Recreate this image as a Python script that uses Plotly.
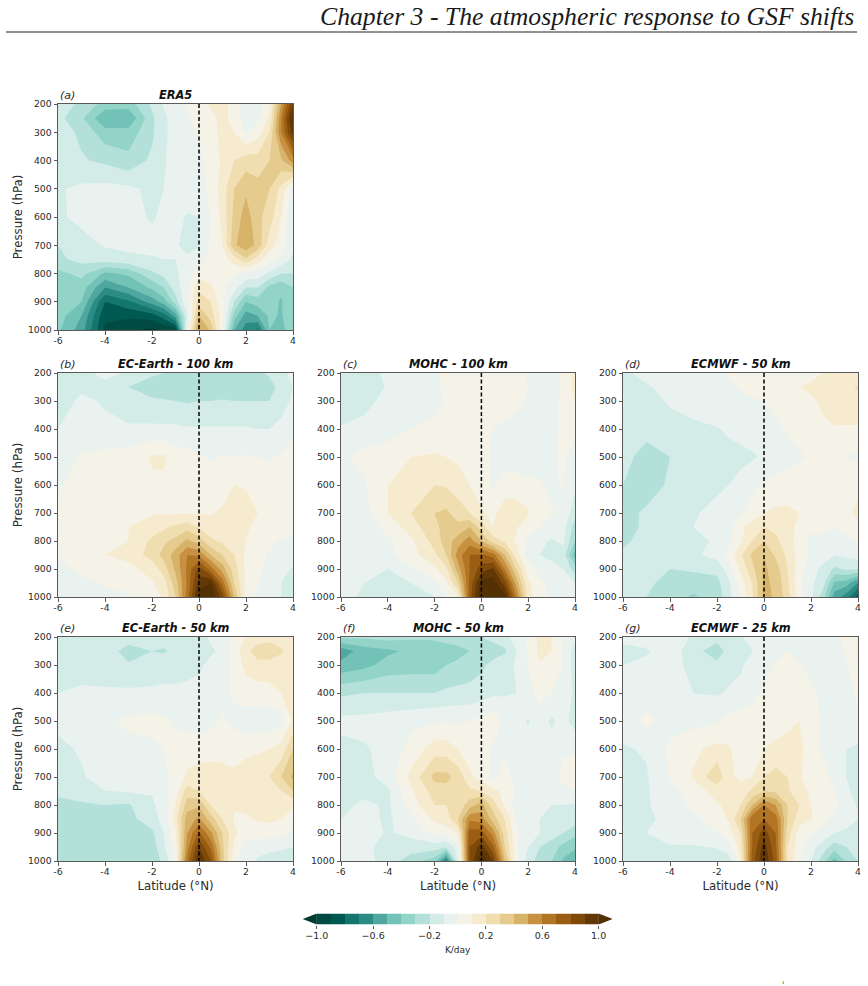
import plotly.graph_objects as go

# Latitude (deg N) and pressure (hPa) coordinates of the composites
latitude = [-6, -5, -4, -3, -2, -1.5, -1, -0.5, 0, 0.5, 1, 1.5, 2, 2.5, 3, 3.5, 4]
pressure = [200, 250, 300, 400, 500, 600, 700, 750, 800, 850, 900, 950, 1000]

# Diabatic heating anomaly (K/day), one row per pressure level
era5 = [
    [-.15, -.22, -.34, -.35, -.18, -.09, -.05, .02, .05, .12, .15, .05, -.05, -.04, .08, .5, .9],
    [-.17, -.28, -.49, -.49, -.22, -.12, -.06, -.02, .05, .06, .14, .05, -.05, -.03, .12, .6, 1.05],
    [-.15, -.22, -.36, -.36, -.22, -.12, -.06, -.02, .01, .05, .14, .1, -.01, .05, .2, .6, .95],
    [-.15, -.19, -.22, -.27, -.18, -.11, -.06, -.03, -.02, .03, .12, .2, .25, .25, .3, .38, .55],
    [-.11, -.08, -.07, -.08, -.12, -.1, -.07, -.04, -.04, .03, .15, .3, .38, .33, .3, .17, -.05],
    [-.12, -.07, -.06, -.07, -.11, -.08, -.07, -.11, -.1, 0, .13, .33, .45, .33, .25, .1, -.1],
    [-.2, -.14, -.09, -.08, -.07, -.07, -.08, -.15, -.11, .02, .1, .38, .47, .37, .15, .05, -.08],
    [-.22, -.17, -.15, -.12, -.11, -.1, -.1, -.07, -.05, .04, .06, .15, .28, .15, .03, -.03, -.12],
    [-.33, -.27, -.42, -.38, -.22, -.17, -.12, -.03, .05, .05, .03, .02, -.02, -.05, -.12, -.2, -.2],
    [-.35, -.35, -.6, -.5, -.38, -.3, -.15, -.02, .18, .12, .02, -.05, -.2, -.2, -.33, -.38, -.3],
    [-.35, -.4, -.8, -.72, -.55, -.45, -.25, -.02, .25, .2, .03, -.2, -.4, -.35, -.36, -.41, -.3],
    [-.35, -.5, -.88, -.88, -.85, -.75, -.55, -.1, .4, .25, .05, -.35, -.55, -.5, -.38, -.41, -.32],
    [-.38, -.55, -.92, -.98, -1.02, -.98, -.95, .0, .52, .38, .02, -.5, -.65, -.72, -.4, -.41, -.38],
]
ec_earth_100 = [
    [-.15, -.12, -.08, -.11, -.18, -.2, -.21, -.22, -.22, -.22, -.22, -.23, -.22, -.22, -.18, -.12, -.08],
    [-.17, -.12, -.12, -.2, -.26, -.27, -.28, -.28, -.27, -.28, -.28, -.28, -.28, -.29, -.25, -.15, -.1],
    [-.15, -.08, -.11, -.14, -.18, -.19, -.2, -.21, -.2, -.2, -.19, -.2, -.2, -.2, -.2, -.13, -.09],
    [-.1, -.07, -.08, -.09, -.08, -.08, -.08, -.09, -.09, -.09, -.09, -.09, -.09, -.1, -.1, -.08, -.01],
    [-.05, .01, .03, .05, .11, .115, .05, .04, .01, -.01, .01, 0, .01, 0, -.01, .01, .03],
    [-.01, .03, .05, .06, .085, .085, .06, .05, .05, .05, .07, .1, .09, .06, .05, .05, .05],
    [.03, .05, .06, .08, .09, .09, .09, .09, .095, .095, .11, .14, .14, .1, .06, .05, .05],
    [.04, .05, .07, .1, .15, .18, .22, .26, .19, .14, .12, .12, .11, .08, .06, .05, .05],
    [.03, .05, .07, .1, .22, .28, .33, .42, .35, .22, .18, .12, .1, .05, .02, -.01, -.02],
    [.01, .04, .1, .12, .25, .33, .45, .6, .58, .4, .3, .2, .08, .03, -.01, -.03, -.05],
    [-.03, .02, .05, .08, .13, .25, .42, .62, .85, .65, .45, .25, .08, .02, -.03, -.07, -.11],
    [-.05, -.02, .01, .05, .09, .15, .35, .62, .95, 1.0, .65, .3, .08, .01, -.04, -.1, -.13],
    [-.06, -.05, -.03, -.01, .02, .12, .3, .65, 1.05, 1.1, .85, .4, .05, -.03, -.08, -.1, -.15],
]
mohc_100 = [
    [-.12, -.14, -.08, -.05, -.01, .02, .03, .05, .05, .05, .05, .03, -.01, -.05, -.05, .02, .12],
    [-.2, -.16, -.09, -.06, -.02, .02, .03, .05, .05, .05, .05, .03, 0, -.04, -.06, .02, .13],
    [-.17, -.14, -.06, -.05, -.03, .01, .03, .05, .05, .05, .04, .02, -.01, -.03, -.05, .03, .1],
    [-.09, -.06, -.05, 0, .03, .05, .05, .05, .05, 0, -.02, -.03, -.04, -.05, -.04, .03, .04],
    [-.02, .03, .06, .1, .11, .1, .08, .06, .04, -.02, -.06, -.06, -.07, -.05, -.02, .02, -.06],
    [-.05, -.01, .1, .17, .2, .19, .15, .1, .06, -.01, .05, .05, .03, .01, -.02, .01, -.08],
    [-.06, -.04, .1, .2, .3, .32, .25, .2, .11, .08, .15, .15, .11, .03, .01, -.03, -.15],
    [-.06, -.05, .03, .15, .28, .33, .33, .4, .25, .1, .13, .11, .05, 0, -.04, -.06, -.25],
    [-.07, -.06, -.02, .08, .24, .35, .45, .55, .4, .25, .18, .08, -.02, -.08, -.11, -.08, -.3],
    [-.1, -.05, -.03, .06, .18, .3, .55, .7, .72, .65, .4, .15, -.06, -.1, -.13, -.14, -.45],
    [-.06, -.06, -.1, -.01, .08, .17, .45, .7, .85, .92, .6, .3, .05, -.03, -.06, -.1, -.25],
    [-.05, -.1, -.12, -.1, -.02, .08, .3, .72, 1.05, 1.05, .85, .45, .12, .02, -.02, -.05, -.1],
    [-.05, -.13, -.15, -.2, -.1, -.01, .1, .75, 1.1, 1.15, 1.05, .6, .15, .03, -.02, -.05, -.07],
]
ecmwf_50 = [
    [-.12, -.07, -.05, 0, -.02, .01, .02, .04, .04, .05, .06, .07, .08, .1, .11, .12, .13],
    [-.2, -.11, -.07, -.05, -.04, -.02, .01, .03, .03, .04, .06, .1, .11, .13, .15, .18, .21],
    [-.16, -.13, -.09, -.06, -.05, -.04, -.03, -.01, 0, .03, .05, .07, .09, .11, .13, .16, .16],
    [-.16, -.15, -.13, -.12, -.105, -.09, -.08, -.06, -.05, -.02, .01, .03, .05, .09, .095, .09, .09],
    [-.15, -.26, -.2, -.15, -.13, -.12, -.115, -.11, -.09, -.06, -.03, -.01, .01, .03, .03, 0, -.02],
    [-.2, -.23, -.19, -.15, -.12, -.1, -.08, -.03, .02, .03, .04, .04, .05, .05, .06, .07, .08],
    [-.22, -.19, -.16, -.11, -.07, -.04, -.01, .05, .1, .12, .12, .1, .06, .06, .06, .08, .12],
    [-.22, -.19, -.16, -.1, -.07, -.04, .08, .14, .2, .18, .13, .08, .03, .03, 0, .04, .08],
    [-.21, -.18, -.16, -.14, -.08, -.03, .08, .2, .3, .22, .15, .05, -.03, -.03, -.06, -.02, .01],
    [-.19, -.17, -.15, -.12, -.06, .03, .18, .32, .4, .28, .18, .06, -.02, -.06, -.1, -.08, -.05],
    [-.18, -.16, -.2, -.18, -.17, -.05, .12, .27, .42, .35, .2, .05, -.07, -.12, -.22, -.18, -.2],
    [-.17, -.17, -.25, -.27, -.23, -.12, .05, .2, .42, .38, .22, .03, -.08, -.15, -.42, -.45, -.6],
    [-.14, -.2, -.27, -.31, -.26, -.13, 0, .18, .44, .38, .25, .03, -.08, -.25, -.55, -.65, -.85],
]
ec_earth_50 = [
    [-.16, -.11, -.13, -.15, -.16, -.16, -.16, -.16, -.15, -.08, -.06, .03, .11, .15, .17, .12, .1],
    [-.17, -.13, -.15, -.24, -.2, -.21, -.18, -.2, -.15, -.12, -.07, .04, .17, .25, .25, .22, .1],
    [-.16, -.15, -.17, -.19, -.16, -.16, -.16, -.14, -.12, -.07, -.05, .03, .13, .17, .17, .13, .12],
    [-.1, -.08, -.08, -.08, -.08, -.07, -.07, -.07, -.06, -.06, -.04, .02, .05, .05, .06, .1, .12],
    [-.08, -.05, -.02, .02, .03, .01, -.01, -.03, -.05, -.03, .02, -.03, -.05, -.06, -.06, -.04, .12],
    [-.12, -.09, -.05, -.03, -.02, 0, .02, .05, .05, .06, .06, .08, .06, .08, .1, .14, .3],
    [-.15, -.11, -.06, -.06, -.04, -.02, .03, .12, .15, .15, .14, .11, .18, .18, .2, .3, .42],
    [-.16, -.13, -.1, -.09, -.09, -.04, .05, .25, .2, .14, .13, .11, .14, .15, .17, .2, .3],
    [-.25, -.22, -.2, -.21, -.12, -.05, .1, .35, .38, .2, .14, .11, .12, .13, .13, .12, .11],
    [-.24, -.25, -.22, -.23, -.15, -.06, .15, .45, .52, .35, .2, .09, .09, .11, .13, .1, .06],
    [-.24, -.24, -.24, -.24, -.22, -.1, .08, .5, .72, .52, .3, .12, .04, .04, .03, .03, -.02],
    [-.22, -.25, -.25, -.25, -.25, -.12, .05, .55, .9, .68, .32, .08, -.04, -.05, -.06, -.07, -.1],
    [-.2, -.25, -.25, -.26, -.25, -.18, .02, .65, 1.0, .8, .35, .02, -.05, -.12, -.16, -.2, -.2],
]
mohc_50 = [
    [-.28, -.28, -.26, -.28, -.28, -.25, -.25, -.22, -.2, -.17, -.13, -.06, .01, .13, .1, .01, -.05],
    [-.56, -.45, -.42, -.38, -.36, -.36, -.33, -.3, -.27, -.25, -.22, -.1, .01, .13, .1, -.02, -.14],
    [-.47, -.43, -.36, -.35, -.35, -.3, -.28, -.25, -.22, -.17, -.13, -.09, .01, .09, .06, 0, -.15],
    [-.22, -.2, -.2, -.2, -.2, -.18, -.17, -.17, -.15, -.12, -.11, -.1, -.03, .03, 0, -.03, -.12],
    [-.07, -.07, -.05, -.03, -.01, -.01, -.01, 0, .03, .07, -.03, -.06, -.11, -.04, -.12, -.06, -.15],
    [-.13, -.11, -.07, .04, .15, .15, .1, .03, .02, -.01, -.03, -.05, -.06, -.06, -.05, -.01, -.01],
    [-.12, -.14, -.05, .13, .33, .33, .26, .13, .05, -.02, .05, -.03, -.05, -.05, -.03, .02, .05],
    [-.13, -.14, -.12, .08, .25, .26, .24, .22, .2, .13, .07, -.02, -.04, -.05, -.04, -.02, -.01],
    [-.14, -.07, -.12, .05, .2, .2, .24, .35, .45, .25, .08, -.05, -.05, -.06, -.1, -.1, -.11],
    [-.1, -.06, -.12, -.02, .12, .15, .3, .58, .55, .35, .2, -.01, -.07, -.1, -.11, -.11, -.14],
    [-.07, -.05, -.11, -.07, .03, .05, .1, .75, .75, .55, .25, .02, -.08, -.1, -.15, -.2, -.27],
    [-.07, -.05, -.18, -.15, -.15, -.2, -.05, .8, .95, .72, .3, .02, -.1, -.2, -.25, -.33, -.38],
    [-.07, -.06, -.15, -.25, -.35, -.7, -.1, .8, 1.1, .9, .4, .02, -.15, -.25, -.3, -.42, -.5],
]
ecmwf_25 = [
    [-.08, -.06, -.05, -.11, -.15, -.12, -.11, -.05, -.02, -.05, -.05, -.05, -.05, -.05, -.03, .03, .11],
    [-.12, -.11, -.05, -.15, -.27, -.15, -.14, -.105, -.05, -.03, 0, -.03, -.05, -.05, -.04, .02, .11],
    [-.1, -.08, -.05, -.14, -.17, -.13, -.12, -.05, -.03, .01, .05, .01, -.03, -.05, -.04, -.02, .1],
    [-.06, -.05, -.05, -.1, -.11, -.09, -.06, -.03, .02, .05, .05, .05, .02, -.02, -.05, -.05, .03],
    [-.05, .03, -.04, -.03, -.01, .03, .04, .05, .05, .06, .07, .1, .04, -.01, -.04, -.05, -.05],
    [-.11, -.09, .02, .08, .13, .11, .07, .05, .1, .12, .14, .13, .04, -.01, -.03, -.1, -.11],
    [-.13, -.11, .01, .11, .28, .12, .08, .1, .2, .24, .2, .11, .06, .03, -.02, -.1, -.11],
    [-.13, -.11, -.03, .05, .14, .13, .15, .22, .3, .28, .22, .12, .09, .05, 0, -.09, -.12],
    [-.14, -.11, -.05, .02, .09, .12, .2, .4, .6, .5, .3, .2, .1, .05, .02, -.04, -.11],
    [-.13, -.12, -.07, -.02, .04, .11, .3, .68, .7, .65, .3, .15, .11, .03, -.03, -.05, -.1],
    [-.12, -.1, -.05, -.04, 0, .05, .2, .7, .85, .7, .25, .05, .01, -.03, -.1, -.12, -.11],
    [-.12, -.12, -.11, -.11, -.09, -.04, .15, .7, .95, .72, .2, .04, -.06, -.15, -.25, -.2, -.2],
    [-.11, -.11, -.13, -.14, -.2, -.15, .1, .75, 1.0, .75, .2, .02, -.1, -.25, -.45, -.28, -.2],
]

panel_letters = ["(a)", "(b)", "(c)", "(d)", "(e)", "(f)", "(g)"]
panel_titles = ["ERA5", "EC-Earth - 100 km", "MOHC - 100 km", "ECMWF - 50 km",
                "EC-Earth - 50 km", "MOHC - 50 km", "ECMWF - 25 km"]
panel_fields = [era5, ec_earth_100, mohc_100, ecmwf_50, ec_earth_50, mohc_50, ecmwf_25]

lat_ticks = [-6, -4, -2, 0, 2, 4]
lat_tick_text = ["-6", "-4", "-2", "0", "2", "4"]
pressure_ticks = [200, 300, 400, 500, 600, 700, 800, 900, 1000]

level_edges = [-1.0, -0.9, -0.8, -0.7, -0.6, -0.5, -0.4, -0.3, -0.2, -0.1, 0.0,
               0.1, 0.2, 0.3, 0.4, 0.5, 0.6, 0.7, 0.8, 0.9, 1.0]
level_mids = [-.95, -.85, -.75, -.65, -.55, -.45, -.35, -.25, -.15, -.05,
              .05, .15, .25, .35, .45, .55, .65, .75, .85, .95]
cbar_ticks = [-1.0, -0.6, -0.2, 0.2, 0.6, 1.0]
cbar_tick_text = ["−1.0", "−0.6", "−0.2", "0.2", "0.6", "1.0"]

# Reversed BrBG, one colour per filled band, including the two end bands
band_colours = ["#003c30", "#014b43", "#015a52", "#14766e", "#2a8c84", "#4fa79f",
                "#73c2b8", "#92d4c8", "#b3e1da", "#d3ece8", "#e9f2ef", "#f5f2e8",
                "#f6ebcf", "#f0deb1", "#e5cb8e", "#d7b269", "#c79141", "#b27524",
                "#995d13", "#7e4909", "#623806", "#543005"]
n_bands = len(band_colours)
colorscale = [[i / (n_bands - 1), c] for i, c in enumerate(band_colours)]

W, H = 868, 986


def px(x):
    return x / W


def py(y):
    return 1 - y / H


# Panel frames in page pixels: left, right, top, bottom
frames = [(58, 293, 104, 330),
          (58, 293, 373, 597), (341, 575, 373, 597), (623, 858, 373, 597),
          (58, 293, 637, 861), (341, 575, 637, 861), (623, 858, 637, 861)]
left_column = {0, 1, 4}
bottom_row = {4, 5, 6}

INK = "#2b2b2b"
FRAME = "#5a5a5a"
FONT = "DejaVu Sans"

fig = go.Figure()
layout = dict(
    width=W, height=H, autosize=False,
    margin=dict(l=0, r=0, t=0, b=0, pad=0, autoexpand=False),
    paper_bgcolor="white", plot_bgcolor="white", showlegend=False,
    font=dict(family=FONT, color=INK, size=9),
)
annotations = []

for i, field in enumerate(panel_fields):
    n = "" if i == 0 else str(i + 1)
    x_id, y_id = "x" + n, "y" + n
    fig.add_trace(go.Contour(
        x=latitude, y=pressure, z=field, xaxis=x_id, yaxis=y_id,
        autocontour=False, contours=dict(start=-1.0, end=1.0, size=0.1, coloring="fill"),
        colorscale=colorscale, showscale=False, line=dict(width=0, smoothing=0),
        hoverinfo="skip",
    ))
    fig.add_trace(go.Scatter(
        x=[0, 0], y=[pressure[0], pressure[-1]], xaxis=x_id, yaxis=y_id, mode="lines",
        line=dict(color="black", width=1.5, dash="4px,2.5px"), hoverinfo="skip",
    ))
    l, r, t, b = frames[i]
    layout["xaxis" + n] = dict(
        domain=[px(l), px(r)], anchor=y_id, range=[-6, 4], tickmode="array",
        tickvals=lat_ticks, ticktext=lat_tick_text, ticks="outside", ticklen=3.5, tickwidth=1,
        ticklabelstandoff=-2,
        tickcolor=FRAME, tickfont=dict(size=9.3, color=INK), showgrid=False, zeroline=False,
        showline=True, mirror=True, linecolor=FRAME, linewidth=1,
        title=dict(text="Latitude (°N)" if i in bottom_row else "", font=dict(size=11.8, color=INK), standoff=6),
    )
    layout["yaxis" + n] = dict(
        domain=[py(b), py(t)], anchor=x_id, range=[1000, 200], tickmode="array",
        tickvals=pressure_ticks, ticks="outside", ticklen=3.5, tickwidth=1,
        tickcolor=FRAME, tickfont=dict(size=9.3, color=INK), showgrid=False, zeroline=False,
        showline=True, mirror=True, linecolor=FRAME, linewidth=1,
        title=dict(text="Pressure (hPa)" if i in left_column else "", font=dict(size=11.8, color=INK), standoff=2),
    )
    annotations.append(dict(
        xref="paper", yref="paper", x=px((l + r) / 2), y=py(t), xanchor="center", yanchor="bottom",
        text="<b><i>%s</i></b>" % panel_titles[i], showarrow=False,
        font=dict(size=11.4, color="#111111"),
    ))
    annotations.append(dict(
        xref="paper", yref="paper", x=px(l), y=py(t), xanchor="left", yanchor="bottom",
        text="<i>%s</i>" % panel_letters[i], showarrow=False, font=dict(size=11, color=INK),
    ))

# Horizontal colour bar with triangular end caps for out-of-range values
fig.add_trace(go.Heatmap(
    x=level_edges, y=[0, 1], z=[level_mids], xaxis="x8", yaxis="y8",
    zmin=-1.05, zmax=1.05, colorscale=colorscale, showscale=False, hoverinfo="skip",
))
fig.add_trace(go.Scatter(
    x=[-1.0, -1.1, -1.0], y=[0, 0.5, 1], xaxis="x8", yaxis="y8", mode="lines", fill="toself",
    fillcolor=band_colours[0], line=dict(width=0), hoverinfo="skip",
))
fig.add_trace(go.Scatter(
    x=[1.0, 1.1, 1.0], y=[0, 0.5, 1], xaxis="x8", yaxis="y8", mode="lines", fill="toself",
    fillcolor=band_colours[-1], line=dict(width=0), hoverinfo="skip",
))
layout["xaxis8"] = dict(
    domain=[px(302.7), px(612.7)], anchor="y8", range=[-1.1, 1.1], tickmode="array",
    tickvals=cbar_ticks, ticktext=cbar_tick_text, ticks="outside", ticklen=3.5, tickwidth=1,
    ticklabelstandoff=-1,
    tickcolor=FRAME, tickfont=dict(size=9.5, color=INK), showgrid=False, zeroline=False, showline=False,
    title=dict(text="K/day", font=dict(size=9, color=INK), standoff=6),
)
layout["yaxis8"] = dict(domain=[py(924.5), py(913.5)], anchor="x8", range=[0, 1], visible=False)

# Running page header above the figure
annotations.append(dict(
    xref="paper", yref="paper", x=px(856), y=py(16), xanchor="right", yanchor="middle",
    text="<i>Chapter 3 - The atmospheric response to GSF shifts</i>", showarrow=False,
    font=dict(family="Liberation Serif", size=25.7, color="#1a1a1a"),
))
# Footnote marker at the foot of the page
annotations.append(dict(
    xref="paper", yref="paper", x=px(783), y=py(985.5), xanchor="center", yanchor="bottom",
    text="1", showarrow=False, borderpad=0, font=dict(family="Liberation Serif", size=5, color="#1a1a1a"),
))
layout["annotations"] = annotations
layout["shapes"] = [dict(
    type="line", xref="paper", yref="paper", x0=px(6), x1=px(857), y0=py(32), y1=py(32),
    line=dict(color="#222222", width=1),
)]

fig.update_layout(**layout)
fig.write_html("out.html")
